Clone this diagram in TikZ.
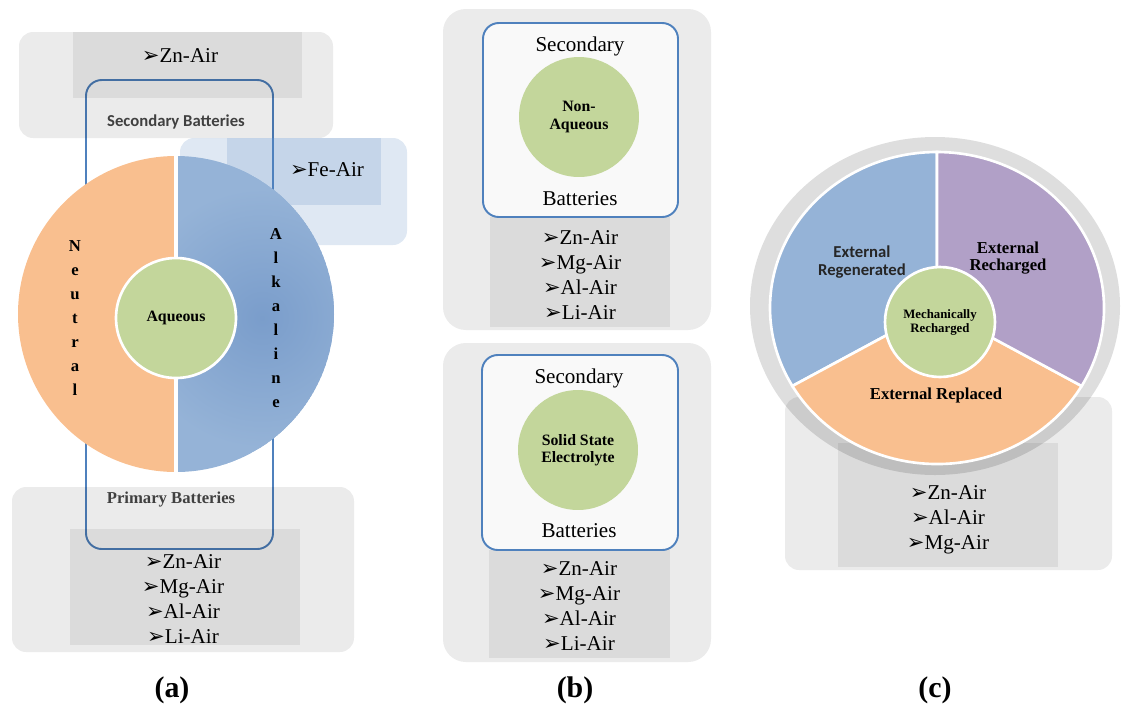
\documentclass[tikz,border=0pt]{standalone}
\usepackage{fontspec}
\setmainfont{Liberation Serif}
\newfontfamily\calibfont{Carlito}
\newfontfamily\dingfont{DejaVu Sans}
\usetikzlibrary{positioning}

\definecolor{frameblue}{HTML}{4F81BD}
\definecolor{framefill}{HTML}{F9F9F9}
\definecolor{ringgray}{HTML}{DEDEDE}
\definecolor{halforange}{HTML}{F9BF8F}
\definecolor{halfblue}{HTML}{95B3D7}
\definecolor{deepblue}{HTML}{7A9DCB}
\definecolor{piepurple}{HTML}{B1A0C7}
\definecolor{coregreen}{HTML}{C3D69B}
\definecolor{darktext}{HTML}{404040}

\newcommand{\arrbul}{{\dingfont\fontsize{12}{12}\selectfont\char"27A2}}

\begin{document}
\begin{tikzpicture}[
  x=0.02cm, y=-0.02cm,
  every node/.style={inner sep=0pt},
  shadebox/.style={fill=black, fill opacity=0.08, rounded corners=8pt},
  innerbox/.style={fill=black, fill opacity=0.065},
  febox/.style={fill=frameblue, fill opacity=0.18},
  frame/.style={draw=frameblue, line width=1.1pt, rounded corners=9pt},
  sector/.style={draw=white, line width=1.5pt},
  core/.style={circle, fill=coregreen, draw=white, line width=1.5pt, align=center,
    font=\fontsize{9}{10}\selectfont\bfseries},
  airlist/.style={align=center, font=\fontsize{12}{14.2}\selectfont},
  plain/.style={font=\fontsize{12}{14}\selectfont},
  vlet/.style={anchor=base, font=\fontsize{9.5}{10}\selectfont\bfseries},
  calibhead/.style={align=center, text=darktext, font=\calibfont\fontsize{9.5}{10}\selectfont\bfseries},
  serifhead/.style={align=center, font=\fontsize{9.5}{10}\selectfont\bfseries},
  panlabel/.style={font=\fontsize{17}{20}\selectfont\bfseries}
]
\useasboundingbox (0,0) rectangle (1123,708);

% (a) aqueous: frame first, grey boxes over it
\draw[frame] (86,80) rectangle (273,549);
\fill[shadebox] (19,32) rectangle (333,138);
\fill[innerbox] (73,32) rectangle (302,98);
\fill[shadebox] (12,487) rectangle (354,652);
\fill[innerbox] (70,529) rectangle (300,645);
\fill[febox, rounded corners=8pt] (180,138) rectangle (407,245);
\fill[febox] (227,138) rectangle (381,205);

\coordinate (ac) at (176,314);
\begin{scope}
  \clip (0,140) rectangle (176,480);
  \fill[halforange] (ac) circle[radius=158];
\end{scope}
\begin{scope}
  \clip (176,140) rectangle (340,480);
  \clip (ac) circle[radius=158];
  \fill[halfblue] (ac) circle[radius=158];
  \shade[inner color=deepblue, outer color=halfblue] (262,318) circle[radius=130];
\end{scope}
\draw[white, line width=2.3pt] (176,150) -- (176,478);
\node[core, minimum size=2.4cm] (aq) at (176,318) {Aqueous};

\foreach \ch [count=\i from 0] in {N,e,u,t,r,a,l}
  \node[vlet] (neu\i) at (75,251+24*\i) {\ch};
\foreach \ch [count=\i from 0] in {A,l,k,a,l,i,n,e}
  \node[vlet] (alk\i) at (276,239+24.1*\i) {\ch};

\node[airlist] (zn-sec) at (180,56) {\arrbul Zn-Air};
\node[calibhead] (sec-a) at (176,122) {Secondary Batteries};
\node[airlist] (fe-sec) at (327,170) {\arrbul Fe-Air};
\node[serifhead, text=darktext] (pri-a) at (171,499) {Primary Batteries};
\node[airlist] (list-a) at (183,599) {\arrbul Zn-Air\\ \arrbul Mg-Air\\ \arrbul Al-Air\\ \arrbul Li-Air};
\node[panlabel] (lab-a) at (172,690) {(a)};

% (b) non-aqueous and solid state
\fill[shadebox, rounded corners=13pt] (443,9) rectangle (711,330);
\fill[innerbox] (490,217) rectangle (670,327);
\filldraw[frame, fill=framefill] (483,23) rectangle (678,217);
\node[core, draw=none, minimum size=2.4cm] (nonaq) at (579,117) {Non-\\Aqueous};
\node[plain] (sec-b1) at (580,46) {Secondary};
\node[plain] (bat-b1) at (580,199) {Batteries};
\node[airlist] (list-b1) at (580,275) {\arrbul Zn-Air\\ \arrbul Mg-Air\\ \arrbul Al-Air\\ \arrbul Li-Air};

\fill[shadebox, rounded corners=13pt] (443,343) rectangle (711,662);
\fill[innerbox] (489,550) rectangle (670,658);
\filldraw[frame, fill=framefill] (482,355) rectangle (678,550);
\node[core, draw=none, minimum size=2.4cm] (solid) at (578,450) {Solid State\\Electrolyte};
\node[plain] (sec-b2) at (579,378) {Secondary};
\node[plain] (bat-b2) at (579,531) {Batteries};
\node[airlist] (list-b2) at (579,606) {\arrbul Zn-Air\\ \arrbul Mg-Air\\ \arrbul Al-Air\\ \arrbul Li-Air};
\node[panlabel] (lab-b) at (575,690) {(b)};

% (c) mechanically recharged
\fill[ringgray] (935,306) ellipse[x radius=185, y radius=169];
\fill[shadebox] (785,397) rectangle (1112,570);
\fill[innerbox] (838,443) rectangle (1058,567);
\coordinate (pc) at (937,308);
\filldraw[sector, fill=halfblue] (pc) -- ++(270:167 and 156)
  arc[start angle=270, end angle=150, x radius=167, y radius=156] -- cycle;
\filldraw[sector, fill=halforange] (pc) -- ++(150:167 and 156)
  arc[start angle=150, end angle=30, x radius=167, y radius=156] -- cycle;
\filldraw[sector, fill=piepurple] (pc) -- ++(30:167 and 156)
  arc[start angle=30, end angle=-90, x radius=167, y radius=156] -- cycle;
\node[core, minimum size=2.2cm, font=\fontsize{7.3}{8}\selectfont\bfseries] (mech) at (940,322) {Mechanically\\Recharged};

\node[calibhead, text=black!85] (regen) at (862,262) {External\\Regenerated};
\node[serifhead] (rechg) at (1008,258) {External\\Recharged};
\node[serifhead] (repl) at (936,395) {External Replaced};
\node[airlist] (list-c) at (948,520) {\arrbul Zn-Air\\ \arrbul Al-Air\\ \arrbul Mg-Air};
\node[panlabel] (lab-c) at (935,690) {(c)};

\end{tikzpicture}
\end{document}
